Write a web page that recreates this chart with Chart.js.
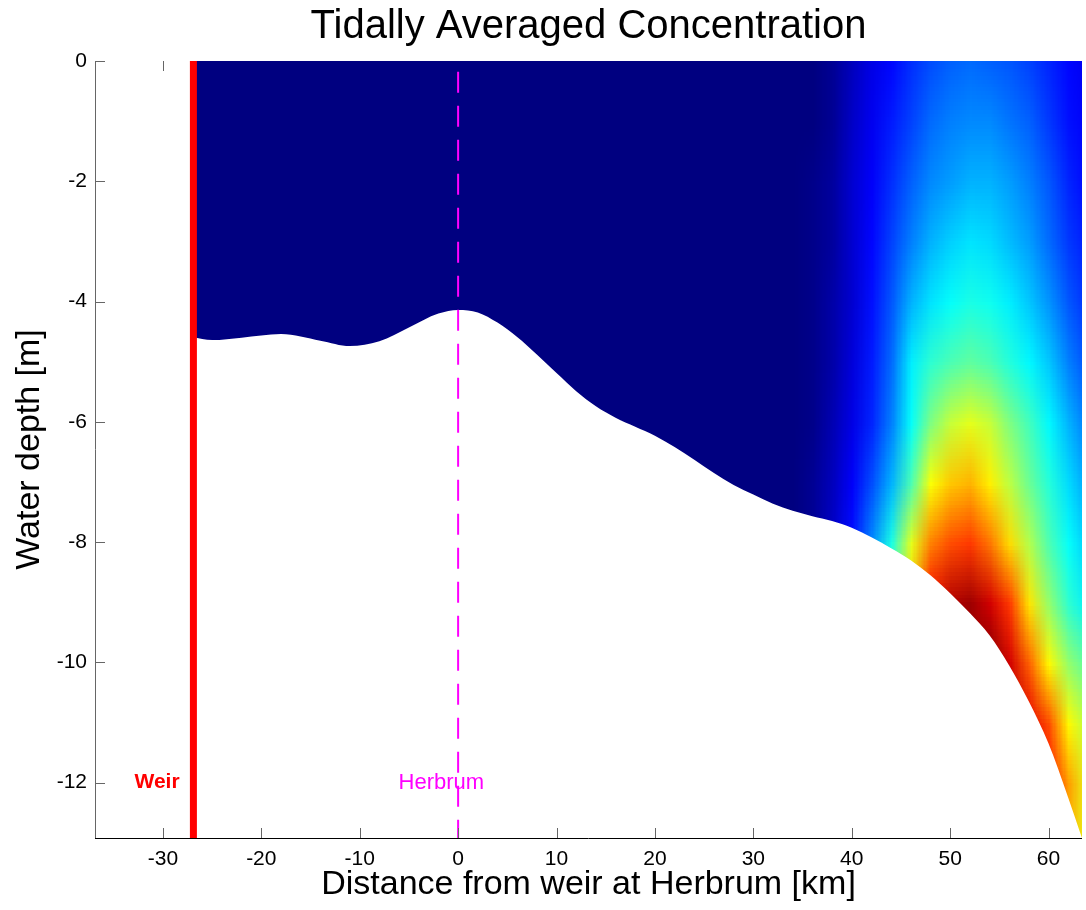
<!DOCTYPE html>
<html>
<head>
<meta charset="utf-8">
<title>Tidally Averaged Concentration</title>
<script src="https://cdn.jsdelivr.net/npm/chart.js@4.4.0/dist/chart.umd.min.js"></script>
<style>
    html, body { margin: 0; padding: 0; background: #fff; }
    #graficoConcentracao { display: block; }
</style>
</head>
<body>
<canvas id="graficoConcentracao" width="1086" height="910"></canvas>
<script>
// bed profile (distance km, depth m)
var bedDistance = [-27, -25, -22, -18, -14, -11, -8, -5, -2, 0, 2, 4, 6, 8, 10, 12, 14, 16, 18, 20,
                   22, 24, 26, 28, 30, 32, 34, 36, 38, 40, 42, 44, 46, 48, 50, 52, 54, 56, 58, 60, 62, 63.4];
var bedDepth = [-4.59, -4.64, -4.60, -4.54, -4.65, -4.74, -4.66, -4.43, -4.20, -4.14, -4.18, -4.35, -4.59, -4.88, -5.19, -5.49, -5.74, -5.93, -6.08, -6.23,
                -6.42, -6.63, -6.85, -7.05, -7.21, -7.36, -7.48, -7.57, -7.65, -7.76, -7.92, -8.10, -8.30, -8.55, -8.85, -9.18, -9.55, -10.05, -10.65, -11.35, -12.25, -12.92];

var weirDistance = -26.9;
var herbrumDistance = 0;

// concentration grid (0 = navy, 1 = dark red)
var fieldDistance = [34, 36, 38, 40, 42, 44, 46, 48, 50, 52, 54, 56, 58, 60, 62, 64];
var fieldDepth = [0, -1, -2, -3, -4, -5, -6, -7, -8, -9, -10, -11, -12, -13];
var concentration = [
    [0, 0,   .02, .06, .10, .13, .17, .20, .22, .23, .22, .21, .19, .16, .13, .11],
    [0, 0,   .02, .07, .11, .15, .19, .23, .25, .26, .26, .24, .22, .18, .14, .12],
    [0, .01, .03, .08, .12, .17, .22, .26, .28, .30, .30, .28, .25, .21, .16, .13],
    [0, .01, .03, .08, .13, .19, .25, .30, .33, .35, .34, .31, .28, .23, .18, .15],
    [0, .01, .04, .08, .14, .21, .30, .35, .38, .40, .39, .36, .32, .27, .21, .17],
    [0, .01, .04, .09, .15, .23, .36, .42, .45, .47, .45, .41, .37, .32, .25, .20],
    [0, .01, .05, .10, .16, .25, .38, .50, .57, .60, .57, .50, .44, .37, .30, .24],
    [0, .02, .06, .12, .20, .30, .45, .62, .68, .70, .64, .56, .48, .41, .34, .28],
    [0, .02, .07, .14, .26, .40, .60, .75, .80, .82, .76, .66, .55, .45, .38, .32],
    [0, .02, .08, .16, .30, .48, .68, .88, .95, .97, .92, .82, .65, .52, .42, .36],
    [0, .02, .08, .16, .30, .48, .68, .88, .95, .98, 1.0, .92, .78, .63, .52, .46],
    [0, .02, .08, .16, .30, .48, .68, .88, .95, .98, 1.0, .96, .90, .80, .63, .55],
    [0, .02, .08, .16, .30, .48, .68, .88, .95, .98, 1.0, .96, .90, .86, .72, .60],
    [0, .02, .08, .16, .30, .48, .68, .88, .95, .98, 1.0, .96, .90, .86, .70, .60]
];

var xTicks = [-30, -20, -10, 0, 10, 20, 30, 40, 50, 60];
var yTicks = [0, -2, -4, -6, -8, -10, -12];
var xMin = -36.9, xMax = 63.4, yMin = -12.92, yMax = 0;

var fonte = '"Liberation Sans", Arial, Helvetica, sans-serif';

function jet(v) {
    function c(t) { return Math.round(255 * Math.max(0, Math.min(1, t))); }
    return [c(1.5 - Math.abs(4 * v - 3)), c(1.5 - Math.abs(4 * v - 2)), c(1.5 - Math.abs(4 * v - 1))];
}

function pontos(xs, ys) {
    return xs.map(function(x, i) { return {x: x, y: ys[i]}; });
}

var campoConcentracao = {
    id: 'campoConcentracao',
    beforeDatasetsDraw: function(chart) {
        var ctx = chart.ctx, x = chart.scales.x, y = chart.scales.y, area = chart.chartArea;
        ctx.save();

        // top ticks, mostly hidden under the field
        ctx.strokeStyle = '#666';
        ctx.lineWidth = 1;
        xTicks.forEach(function(t) {
            var px = Math.round(x.getPixelForValue(t)) + 0.5;
            ctx.beginPath();
            ctx.moveTo(px, area.top);
            ctx.lineTo(px, area.top + 10);
            ctx.stroke();
        });

        var left = x.getPixelForValue(weirDistance);
        ctx.beginPath();
        ctx.rect(left, area.top, area.right - left, area.bottom - area.top);
        ctx.clip();

        var base = jet(0);
        ctx.fillStyle = 'rgb(' + base.join(',') + ')';
        ctx.fillRect(left, area.top, x.getPixelForValue(fieldDistance[0]) - left + 2, area.bottom - area.top);

        var img = document.createElement('canvas');
        img.width = fieldDistance.length;
        img.height = fieldDepth.length;
        var ictx = img.getContext('2d');
        var data = ictx.createImageData(img.width, img.height);
        for (var j = 0; j < fieldDepth.length; j++) {
            for (var i = 0; i < fieldDistance.length; i++) {
                var cor = jet(concentration[j][i]);
                var k = (j * img.width + i) * 4;
                data.data[k] = cor[0];
                data.data[k + 1] = cor[1];
                data.data[k + 2] = cor[2];
                data.data[k + 3] = 255;
            }
        }
        ictx.putImageData(data, 0, 0);

        var dx = (fieldDistance[1] - fieldDistance[0]) / 2;
        var dy = (fieldDepth[0] - fieldDepth[1]) / 2;
        var x0 = x.getPixelForValue(fieldDistance[0] - dx);
        var x1 = x.getPixelForValue(fieldDistance[fieldDistance.length - 1] + dx);
        var y0 = y.getPixelForValue(fieldDepth[0] + dy);
        var y1 = y.getPixelForValue(fieldDepth[fieldDepth.length - 1] - dy);
        ctx.imageSmoothingEnabled = true;
        ctx.imageSmoothingQuality = 'low';
        ctx.drawImage(img, x0, y0, x1 - x0, y1 - y0);
        ctx.restore();
    },
    afterDatasetsDraw: function(chart) {
        var ctx = chart.ctx, x = chart.scales.x, y = chart.scales.y, area = chart.chartArea;
        ctx.save();
        ctx.lineWidth = 1;

        // axis lines
        ctx.strokeStyle = '#666';
        ctx.beginPath();
        ctx.moveTo(area.left + 0.5, area.top);
        ctx.lineTo(area.left + 0.5, area.bottom);
        ctx.stroke();
        ctx.strokeStyle = '#000';
        ctx.beginPath();
        ctx.moveTo(area.left, area.bottom + 0.5);
        ctx.lineTo(area.right, area.bottom + 0.5);
        ctx.stroke();

        // inward ticks
        ctx.strokeStyle = '#666';
        xTicks.forEach(function(t) {
            var px = Math.round(x.getPixelForValue(t)) + 0.5;
            ctx.beginPath();
            ctx.moveTo(px, area.bottom);
            ctx.lineTo(px, area.bottom - 10);
            ctx.stroke();
        });
        yTicks.forEach(function(t) {
            var py = Math.round(y.getPixelForValue(t)) + 0.5;
            ctx.beginPath();
            ctx.moveTo(area.left, py);
            ctx.lineTo(area.left + 10, py);
            ctx.stroke();
        });

        // labels
        ctx.textBaseline = 'middle';
        ctx.fillStyle = '#ff0000';
        ctx.textAlign = 'right';
        ctx.font = 'bold 21px ' + fonte;
        ctx.fillText('Weir', x.getPixelForValue(-28.3), y.getPixelForValue(-12.0));
        ctx.fillStyle = '#ff00ff';
        ctx.textAlign = 'center';
        ctx.font = '22px ' + fonte;
        ctx.fillText('Herbrum', x.getPixelForValue(-1.7), y.getPixelForValue(-12.0));
        ctx.restore();
    }
};

var grafico = new Chart(document.getElementById('graficoConcentracao').getContext('2d'), {
    type: 'line',
    data: {
        datasets: [{
            label: 'Herbrum',
            data: pontos([herbrumDistance, herbrumDistance], [-0.18, yMin]),
            borderColor: '#ff00ff',
            borderWidth: 2,
            borderDash: [21, 13],
            pointRadius: 0,
            fill: false,
            order: 1
        }, {
            label: 'Weir',
            data: pontos([weirDistance, weirDistance], [yMax, yMin]),
            borderColor: '#ff0000',
            borderWidth: 7,
            pointRadius: 0,
            fill: false,
            order: 2
        }, {
            label: 'Bed',
            data: pontos(bedDistance, bedDepth),
            borderWidth: 0,
            borderColor: 'rgba(255,255,255,0)',
            backgroundColor: '#ffffff',
            pointRadius: 0,
            cubicInterpolationMode: 'monotone',
            fill: 'start',
            order: 3
        }]
    },
    options: {
        responsive: false,
        animation: false,
        events: [],
        layout: { padding: { left: 0, right: 4, top: 0, bottom: 0 } },
        plugins: {
            legend: { display: false },
            tooltip: { enabled: false },
            title: {
                display: true,
                text: 'Tidally Averaged Concentration',
                fullSize: false,
                color: '#000',
                font: { family: fonte, size: 40, weight: 'normal' },
                padding: { top: 3, bottom: 10 }
            }
        },
        scales: {
            x: {
                type: 'linear',
                min: xMin,
                max: xMax,
                grid: { display: false, drawTicks: false },
                border: { display: false },
                afterBuildTicks: function(scale) { scale.ticks = xTicks.map(function(v) { return {value: v}; }); },
                afterFit: function(scale) { scale.height = 72; },
                ticks: { color: '#000', padding: 9, font: { family: fonte, size: 21 } },
                title: {
                    display: true,
                    text: 'Distance from weir at Herbrum [km]',
                    color: '#000',
                    font: { family: fonte, size: 34 },
                    padding: { top: 0, bottom: 5 }
                }
            },
            y: {
                type: 'linear',
                min: yMin,
                max: yMax,
                grid: { display: false, drawTicks: false },
                border: { display: false },
                afterBuildTicks: function(scale) { scale.ticks = yTicks.map(function(v) { return {value: v}; }); },
                afterFit: function(scale) { scale.width = 95; },
                ticks: { color: '#000', padding: 8, font: { family: fonte, size: 21 } },
                title: {
                    display: true,
                    text: 'Water depth [m]',
                    color: '#000',
                    font: { family: fonte, size: 34 },
                    padding: { top: 9, bottom: 0 }
                }
            }
        }
    },
    plugins: [campoConcentracao]
});
</script>
</body>
</html>
